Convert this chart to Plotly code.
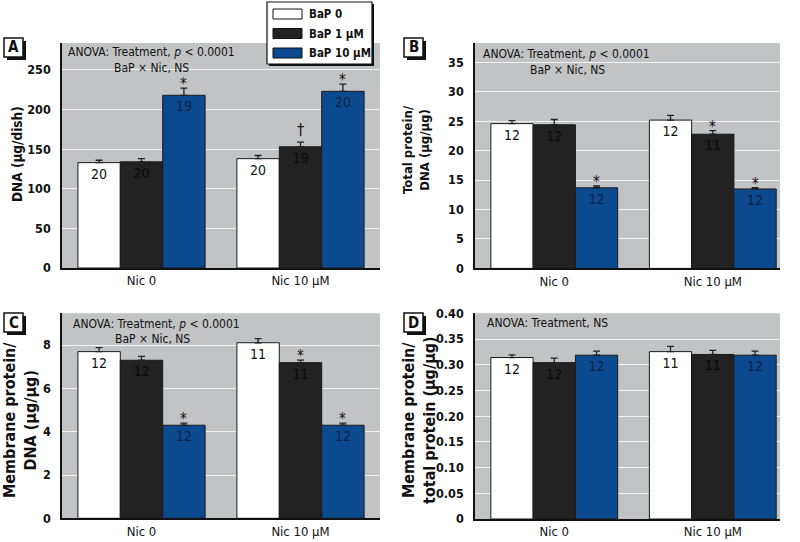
import plotly.graph_objects as go

# ---------------- data ----------------
groups = ["Nic 0", "Nic 10 µM"]
series = ["BaP 0", "BaP 1 µM", "BaP 10 µM"]

# Panel A: DNA (µg/dish); rows = series, cols = groups
A_mean = [[133, 138], [134, 153], [218, 223]]
A_err = [[3, 4], [4, 6], [9, 9]]
A_n = [["20", "20"], ["20", "19"], ["19", "20"]]
A_sig = [["", ""], ["", "†"], ["*", "*"]]

# Panel B: Total protein/DNA (µg/µg)
B_mean = [[24.6, 25.2], [24.4, 22.8], [13.7, 13.5]]
B_err = [[0.5, 0.8], [0.9, 0.6], [0.3, 0.2]]
B_n = [["12", "12"], ["12", "11"], ["12", "12"]]
B_sig = [["", ""], ["", "*"], ["*", "*"]]

# Panel C: Membrane protein/DNA (µg/µg)
C_mean = [[7.70, 8.11], [7.30, 7.19], [4.30, 4.30]]
C_err = [[0.18, 0.19], [0.18, 0.12], [0.10, 0.10]]
C_n = [["12", "11"], ["12", "11"], ["12", "12"]]
C_sig = [["", ""], ["", "*"], ["*", "*"]]

# Panel D: Membrane protein/total protein (µg/µg)
D_mean = [[0.314, 0.3255], [0.304, 0.320], [0.3185, 0.3185]]
D_err = [[0.005, 0.010], [0.009, 0.008], [0.008, 0.008]]
D_n = [["12", "11"], ["12", "11"], ["12", "12"]]
D_sig = [["", ""], ["", ""], ["", ""]]

A_ticks = [0, 50, 100, 150, 200, 250]
B_ticks = [0, 5, 10, 15, 20, 25, 30, 35]
C_ticks = [0, 2, 4, 6, 8]
D_ticks = [0, 0.05, 0.10, 0.15, 0.20, 0.25, 0.30, 0.35, 0.40]
D_ticktext = ["0", "0.05", "0.10", "0.15", "0.20", "0.25", "0.30", "0.35", "0.40"]

# ---------------- style ----------------
W, H = 800, 542
FONT = "DejaVu Sans Condensed, Liberation Sans Narrow, Arial Narrow, sans-serif"
colors = ["#ffffff", "#222222", "#0b4a8e"]
textcolors = ["#111111", "#0a0a0a", "#0a2346"]
BG = "#c1c3c5"
BARGAP = 0.2


def px(x):
    return x / W


def py(y):
    return 1 - y / H


panels = [
    dict(key="", letter="A", mean=A_mean, err=A_err, n=A_n, sig=A_sig,
         xpx=(62, 380), ypx=(43, 268), yr=[0, 284], ticks=A_ticks, ticktext=None,
         title="DNA (µg/dish)", tpos=(17, 154), tsize=13.5,
         anova=[("ANOVA: Treatment, <i>p</i> &lt; 0.0001", 66, 52), ("BaP × Nic, NS", 112, 68)],
         box=(4, 38), xr=[-0.5, 1.5]),
    dict(key="2", letter="B", mean=B_mean, err=B_err, n=B_n, sig=B_sig,
         xpx=(475, 780), ypx=(43, 268.4), yr=[0, 38.3], ticks=B_ticks, ticktext=None,
         title="Total protein/<br>DNA (µg/µg)", tpos=(416, 150), tsize=13,
         anova=[("ANOVA: Treatment, <i>p</i> &lt; 0.0001", 481, 54), ("BaP × Nic, NS", 528, 70)],
         box=(404, 38), xr=[-0.5, 1.424]),
    dict(key="3", letter="C", mean=C_mean, err=C_err, n=C_n, sig=C_sig,
         xpx=(62, 380), ypx=(313.3, 518.3), yr=[0, 9.47], ticks=C_ticks, ticktext=None,
         title="Membrane protein/<br>DNA (µg/µg)", tpos=(20, 420), tsize=16,
         anova=[("ANOVA: Treatment, <i>p</i> &lt; 0.0001", 71, 324), ("BaP × Nic, NS", 113, 339)],
         box=(4, 313), xr=[-0.5, 1.5]),
    dict(key="4", letter="D", mean=D_mean, err=D_err, n=D_n, sig=D_sig,
         xpx=(475, 780), ypx=(313.3, 519), yr=[0, 0.40], ticks=D_ticks, ticktext=D_ticktext,
         title="Membrane protein/<br>total protein (µg/µg)", tpos=(419, 420), tsize=16,
         anova=[("ANOVA: Treatment, NS", 485, 323)],
         box=(404, 313), xr=[-0.5, 1.424]),
]

fig = go.Figure()
annotations = []
shapes = []
layout = {}
bw = (1 - BARGAP) / len(series)

for p in panels:
    k = p["key"]
    xa, ya = "x" + k, "y" + k
    for s, name in enumerate(series):
        fig.add_trace(go.Bar(
            x=list(range(len(groups))), y=p["mean"][s], name=name,
            xaxis=xa, yaxis=ya, showlegend=False,
            marker=dict(color=colors[s], line=dict(color="#1a1a1a", width=1)),
            error_y=dict(type="data", array=p["err"][s], arrayminus=[0] * len(groups),
                         symmetric=False, color="#222222", thickness=1.3, width=3.5),
            text=p["n"][s], textposition="inside", insidetextanchor="end",
            textangle=0, constraintext="none",
            textfont=dict(family=FONT, size=14, color=textcolors[s]),
            hoverinfo="skip",
        ))
        for g in range(len(groups)):
            mk = p["sig"][s][g]
            if mk:
                annotations.append(dict(
                    x=g + (s - 1) * bw, y=p["mean"][s][g] + p["err"][s][g],
                    xref=xa, yref=ya, text=mk, showarrow=False,
                    yanchor="bottom", yshift=-7 if mk == "*" else 1,
                    font=dict(family=FONT, size=15 if mk == "*" else 16, color="#111111")))
    x0, x1 = p["xpx"]
    y0, y1 = p["ypx"]
    layout["xaxis" + k] = dict(
        domain=[px(x0), px(x1)], anchor=ya, range=p["xr"], automargin=False,
        tickvals=list(range(len(groups))), ticktext=groups,
        showgrid=False, zeroline=False, showline=True, linecolor="#111111", linewidth=1.5,
        ticks="", tickfont=dict(family=FONT, size=13, color="#111111"), fixedrange=True)
    yd = dict(
        domain=[py(y1), py(y0)], anchor=xa, range=p["yr"], tickvals=p["ticks"], automargin=False,
        showgrid=True, gridcolor="#f2f2f2", gridwidth=1.3, zeroline=False,
        showline=True, linecolor="#111111", linewidth=1.5, ticks="",
        ticklabelstandoff=7,
        tickfont=dict(family=FONT, size=12.5, color="#111111", weight="bold"), fixedrange=True)
    if p["ticktext"]:
        yd["ticktext"] = p["ticktext"]
    layout["yaxis" + k] = yd
    # plot background
    shapes.append(dict(type="rect", xref="paper", yref="paper", layer="below",
                       x0=px(x0), x1=px(x1), y0=py(y1), y1=py(y0),
                       fillcolor=BG, line=dict(width=0)))
    # y title
    annotations.append(dict(x=px(p["tpos"][0]), y=py(p["tpos"][1]), xref="paper", yref="paper",
                            text="<b>" + p["title"] + "</b>", textangle=-90, showarrow=False,
                            font=dict(family=FONT, size=p["tsize"], color="#111111"),
                            xanchor="center", yanchor="middle"))
    # ANOVA text
    for t, tx, ty in p["anova"]:
        annotations.append(dict(x=px(tx), y=py(ty), xref="paper", yref="paper", text=t,
                                showarrow=False, xanchor="left", yanchor="middle",
                                font=dict(family=FONT, size=12, color="#111111")))
    # panel letter box
    bx, by = p["box"]
    shapes.append(dict(type="rect", xref="paper", yref="paper",
                       x0=px(bx + 3), x1=px(bx + 22), y0=py(by + 22), y1=py(by + 3),
                       fillcolor="#111111", line=dict(width=0)))
    shapes.append(dict(type="rect", xref="paper", yref="paper",
                       x0=px(bx), x1=px(bx + 19), y0=py(by + 19), y1=py(by),
                       fillcolor="#ffffff", line=dict(color="#111111", width=1.5)))
    annotations.append(dict(x=px(bx + 9.5), y=py(by + 9.5), xref="paper", yref="paper",
                            text="<b>" + p["letter"] + "</b>", showarrow=False,
                            xanchor="center", yanchor="middle",
                            font=dict(family=FONT, size=15, color="#111111")))

# legend (manual box)
lx0, ly0, lx1, ly1 = 267, 2, 372, 64
shapes.append(dict(type="rect", xref="paper", yref="paper",
                   x0=px(lx0 + 2), x1=px(lx1 + 2), y0=py(ly1 + 2), y1=py(ly0 + 2),
                   fillcolor="#111111", line=dict(width=0)))
shapes.append(dict(type="rect", xref="paper", yref="paper",
                   x0=px(lx0), x1=px(lx1), y0=py(ly1), y1=py(ly0),
                   fillcolor="#ffffff", line=dict(color="#111111", width=1.2)))
for s, name in enumerate(series):
    cy = 14 + s * 19.5
    shapes.append(dict(type="rect", xref="paper", yref="paper",
                       x0=px(273), x1=px(302), y0=py(cy + 5), y1=py(cy - 5),
                       fillcolor=colors[s], line=dict(color="#111111", width=1)))
    annotations.append(dict(x=px(307), y=py(cy), xref="paper", yref="paper",
                            text="<b>" + name + "</b>", showarrow=False,
                            xanchor="left", yanchor="middle",
                            font=dict(family=FONT, size=11.5, color="#111111")))

fig.update_layout(
    template="none",
    width=W, height=H, margin=dict(l=0, r=0, t=0, b=0, pad=0, autoexpand=False),
    paper_bgcolor="#ffffff", plot_bgcolor="rgba(0,0,0,0)",
    barmode="group", bargap=BARGAP, bargroupgap=0,
    annotations=annotations, shapes=shapes, showlegend=False,
    font=dict(family=FONT, color="#111111"),
    **layout,
)

fig.write_html("out.html", config={"displayModeBar": False},
               post_script="document.body.style.margin='0';document.body.style.overflow='hidden';")
